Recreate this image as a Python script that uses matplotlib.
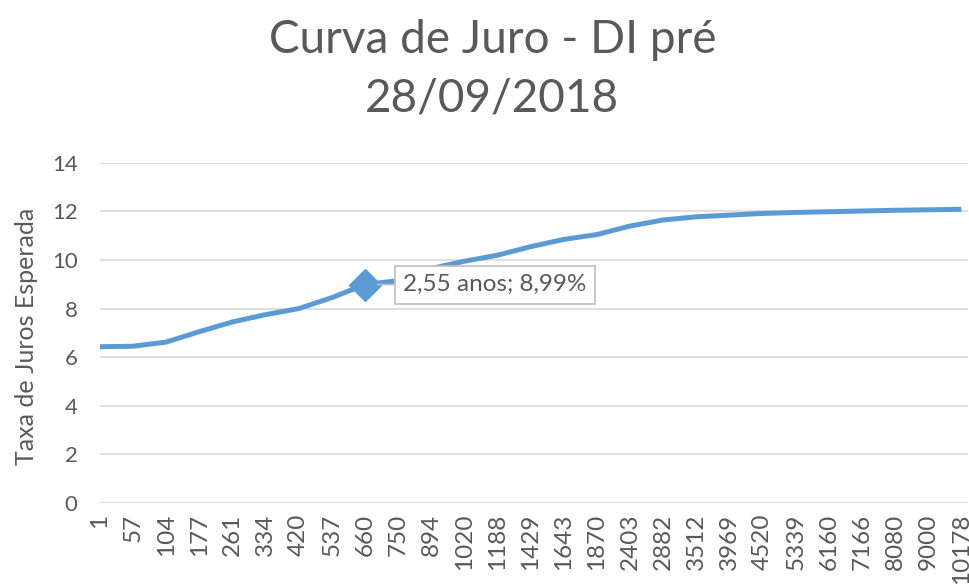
import numpy as np
import matplotlib.pyplot as plt

plt.rcParams['font.family'] = ['Lato', 'DejaVu Sans']

# dias úteis (categorias do eixo x)
dias = [1, 57, 104, 177, 261, 334, 420, 537, 660, 750, 894, 1020, 1188,
        1429, 1643, 1870, 2403, 2882, 3512, 3969, 4520, 5339, 6160, 7166,
        8080, 9000, 10178]
# taxa esperada (% a.a.)
taxas = [6.43, 6.45, 6.62, 7.05, 7.45, 7.75, 8.00, 8.45, 8.99, 9.15, 9.65,
         9.95, 10.20, 10.55, 10.85, 11.05, 11.40, 11.65, 11.78, 11.85, 11.92,
         11.96, 11.99, 12.02, 12.05, 12.07, 12.09]
destaque_idx = 8
destaque_txt = '2,55 anos; 8,99%'

blue = '#5B9BD5'
gray = '#595959'

fig = plt.figure(figsize=(9.69, 5.84), dpi=100)
ax = fig.add_axes([0.103, 0.139, 0.896, 0.582])

x = np.arange(len(dias))
ax.plot(x, taxas, color=blue, linewidth=3.6, solid_capstyle='butt', zorder=3)
ax.plot(x[destaque_idx], taxas[destaque_idx], marker='D', markersize=16,
        color=blue, zorder=4)

ax.annotate(destaque_txt, xy=(x[destaque_idx], taxas[destaque_idx]),
            xytext=(x[destaque_idx] + 1.15, taxas[destaque_idx]),
            fontsize=17.5, color=gray, va='center', ha='left',
            bbox=dict(boxstyle='square,pad=0.35', fc='white', ec='#BFBFBF', lw=1.2),
            arrowprops=dict(arrowstyle='-', color='#BFBFBF', lw=1.2,
                            shrinkA=0, shrinkB=9),
            zorder=5)

ax.set_ylim(0, 14)
ax.set_yticks(range(0, 15, 2))
ax.set_xlim(0, 26.2)
ax.set_xticks(x)
ax.set_xticklabels([str(d) for d in dias], rotation=90)
ax.tick_params(axis='x', length=0, labelsize=17.5, labelcolor=gray, pad=8)
ax.tick_params(axis='y', length=0, labelsize=16, labelcolor=gray, pad=16)
ax.grid(axis='y', color='#D9D9D9', linewidth=1.2)
ax.set_axisbelow(True)
for s in ax.spines.values():
    s.set_visible(False)

ax.set_ylabel('Taxa de Juros Esperada', fontsize=18, color=gray)
ax.yaxis.set_label_coords(-0.071, 0.49)

fig.text(0.508, 0.932, 'Curva de Juro - DI pré', ha='center', va='center',
         fontsize=33, color=gray)
fig.text(0.508, 0.832, '28/09/2018', ha='center', va='center',
         fontsize=33, color=gray)

fig.savefig('out.png', dpi=100)
